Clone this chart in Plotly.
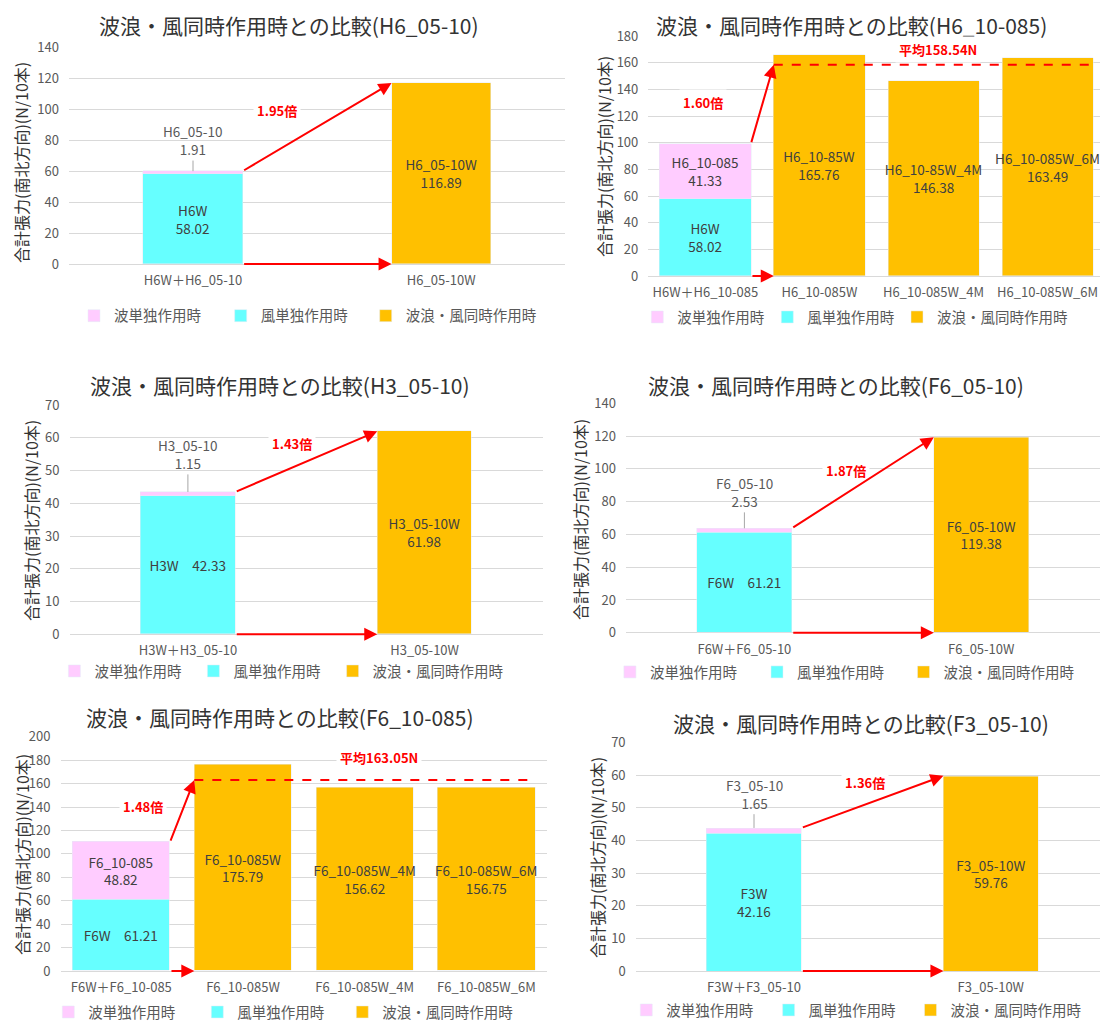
import plotly.graph_objects as go

# ---------------- data ----------------
legend_names = ["波単独作用時", "風単独作用時", "波浪・風同時作用時"]
y_axis_title = "合計張力(南北方向)(N/10本)"

# Panel 1 : H6_05-10
p1_title = "波浪・風同時作用時との比較(H6_05-10)"
p1_categories = ["H6W＋H6_05-10", "H6_05-10W"]
p1_wind_names = ["H6W"]
p1_wind = [58.02]
p1_wave_names = ["H6_05-10"]
p1_wave = [1.91]
p1_combined_names = ["H6_05-10W"]
p1_combined = [116.89]

# Panel 2 : H6_10-085
p2_title = "波浪・風同時作用時との比較(H6_10-085)"
p2_categories = ["H6W＋H6_10-085", "H6_10-085W", "H6_10-085W_4M", "H6_10-085W_6M"]
p2_wind_names = ["H6W"]
p2_wind = [58.02]
p2_wave_names = ["H6_10-085"]
p2_wave = [41.33]
p2_combined_names = ["H6_10-85W", "H6_10-85W_4M", "H6_10-085W_6M"]
p2_combined = [165.76, 146.38, 163.49]

# Panel 3 : H3_05-10
p3_title = "波浪・風同時作用時との比較(H3_05-10)"
p3_categories = ["H3W＋H3_05-10", "H3_05-10W"]
p3_wind_names = ["H3W"]
p3_wind = [42.33]
p3_wave_names = ["H3_05-10"]
p3_wave = [1.15]
p3_combined_names = ["H3_05-10W"]
p3_combined = [61.98]

# Panel 4 : F6_05-10
p4_title = "波浪・風同時作用時との比較(F6_05-10)"
p4_categories = ["F6W＋F6_05-10", "F6_05-10W"]
p4_wind_names = ["F6W"]
p4_wind = [61.21]
p4_wave_names = ["F6_05-10"]
p4_wave = [2.53]
p4_combined_names = ["F6_05-10W"]
p4_combined = [119.38]

# Panel 5 : F6_10-085
p5_title = "波浪・風同時作用時との比較(F6_10-085)"
p5_categories = ["F6W＋F6_10-085", "F6_10-085W", "F6_10-085W_4M", "F6_10-085W_6M"]
p5_wind_names = ["F6W"]
p5_wind = [61.21]
p5_wave_names = ["F6_10-085"]
p5_wave = [48.82]
p5_combined_names = ["F6_10-085W", "F6_10-085W_4M", "F6_10-085W_6M"]
p5_combined = [175.79, 156.62, 156.75]

# Panel 6 : F3_05-10
p6_title = "波浪・風同時作用時との比較(F3_05-10)"
p6_categories = ["F3W＋F3_05-10", "F3_05-10W"]
p6_wind_names = ["F3W"]
p6_wind = [42.16]
p6_wave_names = ["F3_05-10"]
p6_wave = [1.65]
p6_combined_names = ["F3_05-10W"]
p6_combined = [59.76]

panels_data = [
    dict(title=p1_title, cats=p1_categories, wind_n=p1_wind_names, wind=p1_wind,
         wave_n=p1_wave_names, wave=p1_wave, comb_n=p1_combined_names, comb=p1_combined),
    dict(title=p2_title, cats=p2_categories, wind_n=p2_wind_names, wind=p2_wind,
         wave_n=p2_wave_names, wave=p2_wave, comb_n=p2_combined_names, comb=p2_combined),
    dict(title=p3_title, cats=p3_categories, wind_n=p3_wind_names, wind=p3_wind,
         wave_n=p3_wave_names, wave=p3_wave, comb_n=p3_combined_names, comb=p3_combined),
    dict(title=p4_title, cats=p4_categories, wind_n=p4_wind_names, wind=p4_wind,
         wave_n=p4_wave_names, wave=p4_wave, comb_n=p4_combined_names, comb=p4_combined),
    dict(title=p5_title, cats=p5_categories, wind_n=p5_wind_names, wind=p5_wind,
         wave_n=p5_wave_names, wave=p5_wave, comb_n=p5_combined_names, comb=p5_combined),
    dict(title=p6_title, cats=p6_categories, wind_n=p6_wind_names, wind=p6_wind,
         wave_n=p6_wave_names, wave=p6_wave, comb_n=p6_combined_names, comb=p6_combined),
]

# ---------------- layout / style (pixel geometry of the target page) ----------------
PAGE_OFF = 8                      # default body margin of the html page
W, H = 1108 - PAGE_OFF, 1028 - PAGE_OFF
FONT = "Noto Sans CJK JP"
PINK, CYAN, ORANGE, RED = "#FFCCFF", "#66FFFF", "#FFC000", "#FF0000"
GRID = "#D9D9D9"

geoms = [
    dict(x0=68.9, x1=565.3, c0=193.0, sp=248.2, yz=264.0, yt=47.0, ymax=140, dtick=20,
         title=(289, 25), ytitle=(21, 163), leg=[(101, 315.7), (247.7, 315.7), (392.7, 315.7)],
         bw=0.4, sep="<br>", wave_in=False, wave_lab_y=80, ratio=(0.34, 99), avg=None),
    dict(x0=648.3, x1=1105.0, c0=705.3, sp=114.1, yz=276.0, yt=36.0, ymax=180, dtick=20,
         title=(852, 25), ytitle=(604, 157), leg=[(664.3, 317), (794.3, 317), (924, 317)],
         bw=0.8, sep="<br>", wave_in=True, wave_lab_y=None, ratio=(-0.02, 130), avg=(2.04, 169.7)),
    dict(x0=69.5, x1=543.0, c0=187.9, sp=236.7, yz=634.3, yt=405.0, ymax=70, dtick=10,
         title=(280, 385), ytitle=(31, 521), leg=[(81.4, 671), (220.4, 671), (359.6, 671)],
         bw=0.4, sep="　", wave_in=False, wave_lab_y=55.1, ratio=(0.44, 58.3), avg=None),
    dict(x0=626.0, x1=1099.6, c0=744.4, sp=236.8, yz=632.7, yt=403.3, ymax=140, dtick=20,
         title=(836, 385), ytitle=(580, 520), leg=[(636.9, 672), (784, 672), (930.5, 672)],
         bw=0.4, sep="　", wave_in=False, wave_lab_y=86, ratio=(0.43, 99.3), avg=None),
    dict(x0=60.5, x1=547.3, c0=121.3, sp=121.7, yz=971.0, yt=736.7, ymax=200, dtick=20,
         title=(280, 717), ytitle=(22, 855), leg=[(75.3, 1012), (224.3, 1012), (369.3, 1012)],
         bw=0.8, sep="　", wave_in=True, wave_lab_y=None, ratio=(0.18, 140.6), avg=(2.12, 182.4)),
    dict(x0=635.6, x1=1108.0, c0=754.0, sp=236.8, yz=971.0, yt=742.3, ymax=70, dtick=10,
         title=(861, 723), ytitle=(597, 858), leg=[(653.3, 1010), (795.6, 1010), (937.5, 1010)],
         bw=0.4, sep="<br>", wave_in=False, wave_lab_y=54.3, ratio=(0.47, 57.8), avg=None),
]


def fx(px):
    return (px - PAGE_OFF) / W


def fy(py):
    return 1 - (py - PAGE_OFF) / H


fig = go.Figure()
annotations = []
shapes = []
layout = {}
legend_count = 0


def new_legend(pos):
    global legend_count
    legend_count += 1
    key = "legend" if legend_count == 1 else f"legend{legend_count}"
    sx, sy = pos
    layout[key] = dict(
        orientation="h", x=fx(sx - 27), y=fy(sy), xanchor="left", yanchor="middle",
        font=dict(family=FONT, size=14.5, color="#595959"), bgcolor="rgba(0,0,0,0)",
        itemwidth=30, itemclick=False, itemdoubleclick=False, visible=True)
    return key


bar_text_font = dict(family=FONT, size=13.5, color="#404040")

for i, (d, g) in enumerate(zip(panels_data, geoms), start=1):
    s = "" if i == 1 else str(i)
    xa, ya = "x" + s, "y" + s
    cat0 = d["cats"][0]
    bw = g["bw"]
    leg_keys = [new_legend(p) for p in g["leg"]]   # wave, wind, combined

    wind_text = [f"{n}{g['sep']}{v:.2f}" for n, v in zip(d["wind_n"], d["wind"])]
    fig.add_trace(go.Bar(
        x=[cat0], y=d["wind"], name=legend_names[1], marker_color=CYAN,
        width=bw, text=wind_text, textposition="inside", insidetextanchor="middle",
        textangle=0, textfont=bar_text_font, constraintext="none", showlegend=True,
        xaxis=xa, yaxis=ya, legend=leg_keys[1], hoverinfo="skip"))

    wave_text = [f"{n}<br>{v:.2f}" for n, v in zip(d["wave_n"], d["wave"])]
    fig.add_trace(go.Bar(
        x=[cat0], y=d["wave"], name=legend_names[0], marker_color=PINK,
        width=bw, text=wave_text if g["wave_in"] else None,
        textposition="inside" if g["wave_in"] else "none", insidetextanchor="middle",
        textangle=0, textfont=bar_text_font, constraintext="none", showlegend=True,
        xaxis=xa, yaxis=ya, legend=leg_keys[0], hoverinfo="skip"))

    comb_text = [f"{n}<br>{v:.2f}" for n, v in zip(d["comb_n"], d["comb"])]
    fig.add_trace(go.Bar(
        x=d["cats"][1:], y=d["comb"], name=legend_names[2], marker_color=ORANGE,
        width=bw, text=comb_text, textposition="inside", insidetextanchor="middle",
        textangle=0, textfont=bar_text_font, constraintext="none", showlegend=True,
        xaxis=xa, yaxis=ya, legend=leg_keys[2], hoverinfo="skip"))

    n = len(d["cats"])
    x1 = min(g["x1"], 1108)
    layout["xaxis" + s] = dict(
        domain=[fx(g["x0"]), fx(x1)],
        range=[(g["x0"] - g["c0"]) / g["sp"], (x1 - g["c0"]) / g["sp"]],
        anchor=ya, type="category", categoryorder="array", categoryarray=d["cats"],
        showgrid=False, showline=False, zeroline=False, ticks="", automargin=False,
        tickfont=dict(family=FONT, size=13, color="#595959"), ticklabelstandoff=7,
        fixedrange=True)
    layout["yaxis" + s] = dict(
        domain=[fy(g["yz"]), fy(g["yt"])], range=[0, g["ymax"] * 1.0005],
        anchor=xa, dtick=g["dtick"], tick0=0, showgrid=True, gridcolor=GRID, gridwidth=1,
        zeroline=True, zerolinecolor=GRID, zerolinewidth=1, showline=False, ticks="",
        automargin=False,
        tickfont=dict(family=FONT, size=13, color="#595959"), ticklabelstandoff=9,
        fixedrange=True)

    # title
    tx, ty = g["title"]
    annotations.append(dict(
        text=d["title"], x=fx(tx), y=fy(ty), xref="paper", yref="paper",
        showarrow=False, xanchor="center", yanchor="middle", borderpad=0,
        font=dict(family=FONT, size=21, color="#333333")))
    # y-axis title
    yx, yy = g["ytitle"]
    annotations.append(dict(
        text=y_axis_title, x=fx(yx), y=fy(yy), xref="paper", yref="paper",
        showarrow=False, textangle=-90, xanchor="center", yanchor="middle", borderpad=0,
        font=dict(family=FONT, size=16, color="#333333")))

    stack_top = d["wind"][0] + d["wave"][0]
    half = bw / 2

    # outside label for the thin wave segment
    if not g["wave_in"]:
        annotations.append(dict(
            text=wave_text[0], x=0, y=stack_top, xref=xa, yref=ya,
            ax=0, ay=g["wave_lab_y"], axref=xa, ayref=ya,
            showarrow=True, arrowhead=0, arrowwidth=1, arrowcolor="#A6A6A6",
            standoff=0, font=dict(family=FONT, size=13.5, color="#595959")))

    # average line & arrow target
    if len(d["comb"]) > 1:
        target = sum(d["comb"]) / len(d["comb"])
        shapes.append(dict(
            type="line", xref=xa, yref=ya, x0=1 - half, x1=n - 1 + half,
            y0=target, y1=target, line=dict(color=RED, width=2, dash="dash")))
        ax_, ay_ = g["avg"]
        annotations.append(dict(
            text=f"<b>平均{target:.2f}N</b>", x=ax_, y=ay_, xref=xa, yref=ya,
            showarrow=False, bgcolor="white", borderpad=3,
            font=dict(family=FONT, size=13, color=RED)))
    else:
        target = d["comb"][0]

    ratio = target / stack_top
    rx, ry = g["ratio"]
    annotations.append(dict(
        text=f"<b>{ratio:.2f}倍</b>", x=rx, y=ry, xref=xa, yref=ya, showarrow=False,
        bgcolor="white", borderpad=3, font=dict(family=FONT, size=13, color=RED)))

    # red arrows
    for y_tail, y_head in ((stack_top, target), (0, 0)):
        annotations.append(dict(
            text="", x=1 - half, y=y_head, ax=half, ay=y_tail, xref=xa, yref=ya,
            axref=xa, ayref=ya, showarrow=True, arrowhead=2, arrowsize=1.3,
            arrowwidth=2, arrowcolor=RED, standoff=0, startstandoff=0))

fig.update_layout(
    width=W, height=H, autosize=False,
    margin=dict(l=0, r=0, t=0, b=0, pad=0, autoexpand=False),
    paper_bgcolor="white", plot_bgcolor="white",
    barmode="stack", bargap=0, showlegend=True,
    font=dict(family=FONT, color="#595959"),
    annotations=annotations, shapes=shapes,
    **layout)

fig.write_html("out.html")
